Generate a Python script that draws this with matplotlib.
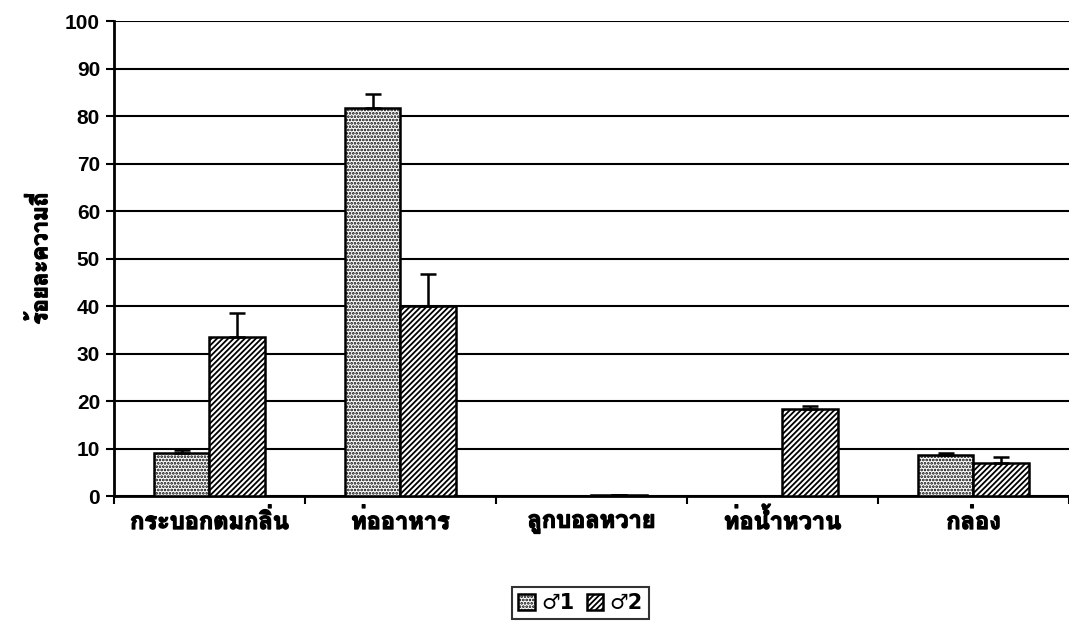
import matplotlib
matplotlib.use("Agg")
import matplotlib.pyplot as plt
from matplotlib import font_manager
from matplotlib.ft2font import FT2Font
import matplotlib.patheffects as pe
import numpy as np

categories = ["กระบอกตมกลิ่น", "ท่ออาหาร", "ลูกบอลหวาย", "ท่อน้ำหวาน", "กล่อง"]
series_names = ["♂1", "♂2"]
s1_values = [9.0, 81.8, 0.0, 0.0, 8.6]
s1_errors = [0.6, 2.9, 0.0, 0.0, 0.4]
s2_values = [33.6, 40.1, 0.3, 18.3, 6.9]
s2_errors = [4.9, 6.6, 0.0, 0.7, 1.3]
y_ticks = [0, 10, 20, 30, 40, 50, 60, 70, 80, 90, 100]
y_label = "ร้อยละความถี่"

# find a font with Thai glyphs
thai_family = None
bold_found = False
for f in font_manager.fontManager.ttflist:
    try:
        cm = FT2Font(f.fname).get_charmap()
    except Exception:
        continue
    if 0x0E01 in cm and 0x0E48 in cm:
        isbold = (f.weight in ("bold", 700) or (isinstance(f.weight, int) and f.weight >= 600))
        if thai_family is None or (isbold and not bold_found):
            thai_family = f.name
            bold_found = isbold
thai_fams = ([thai_family] if thai_family else []) + ["DejaVu Sans"]
thick = [pe.withStroke(linewidth=1.0, foreground="black")]

fig = plt.figure(figsize=(10.69, 6.24), dpi=100)
ax = fig.add_axes([0.1066, 0.205, 0.8934, 0.761])

x = np.arange(len(categories))
w = 0.29
plt.rcParams['hatch.linewidth'] = 1.3
ax.bar(x - w / 2, s1_values, w, color="white", edgecolor="black", hatch=".....",
       linewidth=1.8, zorder=3, label=series_names[0])
ax.bar(x + w / 2, s2_values, w, color="white", edgecolor="black", hatch="//////",
       linewidth=1.8, zorder=3, label=series_names[1])
ax.errorbar(x - w / 2, s1_values, yerr=[np.zeros(len(x)), s1_errors], fmt="none",
            ecolor="black", elinewidth=1.8, capsize=6, capthick=1.8, zorder=4)
ax.errorbar(x + w / 2, s2_values, yerr=[np.zeros(len(x)), s2_errors], fmt="none",
            ecolor="black", elinewidth=1.8, capsize=6, capthick=1.8, zorder=4)

ax.set_xlim(-0.5, len(categories) - 0.5)
ax.set_ylim(0, 100)
ax.set_yticks(y_ticks)
ax.set_yticklabels([str(t) for t in y_ticks], fontsize=15, fontweight="bold",
                   family="Liberation Sans")
ax.yaxis.grid(True, color="black", linewidth=1.5, zorder=0)
ax.set_axisbelow(True)
ax.set_xticks(np.arange(len(categories) + 1) - 0.5, minor=True)
ax.set_xticks(x)
ax.set_xticklabels(categories, fontsize=17, fontweight="bold", family=thai_fams)
for t in ax.get_xticklabels():
    t.set_path_effects(thick)
ax.tick_params(axis="x", which="major", length=0, pad=10)
ax.tick_params(axis="x", which="minor", length=6, width=1.5, direction="out")
ax.tick_params(axis="y", length=6, width=1.5, direction="out", pad=4)
for s in ["top", "right"]:
    ax.spines[s].set_visible(False)
for s in ["left", "bottom"]:
    ax.spines[s].set_linewidth(2)
yl = ax.set_ylabel(y_label, fontsize=16, fontweight="bold", family=thai_fams, labelpad=10)
yl.set_path_effects(thick)

leg = fig.legend(loc="center", bbox_to_anchor=(0.543, 0.034), ncol=2,
                 frameon=True, fancybox=False, edgecolor="black",
                 prop={"size": 15, "weight": "bold", "family": "DejaVu Sans"},
                 handlelength=0.8, handleheight=0.8, handletextpad=0.3,
                 columnspacing=0.6, borderpad=0.3)
leg.get_frame().set_linewidth(1.5)

fig.savefig("out.png", dpi=100)
